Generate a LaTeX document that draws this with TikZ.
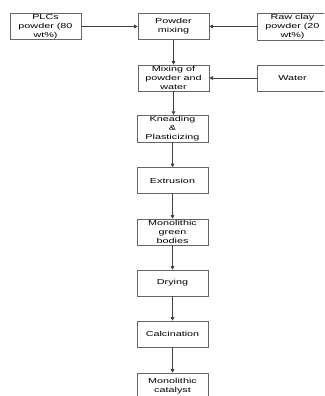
\documentclass[tikz,border=0pt]{standalone}
\usepackage{fontspec}
\newfontfamily\boxfont[FakeStretch=1.5]{Liberation Sans}
\usetikzlibrary{arrows.meta}
\begin{document}
\begin{tikzpicture}[x=1pt,y=-1pt,
    stepbox/.style={draw=black!60, line width=0.6pt, minimum width=71pt, minimum height=26pt,
      inner sep=1pt, align=center, font=\boxfont\fontsize{7.2}{9}\selectfont},
    flow/.style={draw=black!75, line width=0.6pt, -{Triangle[length=3.5pt,width=3.5pt]}}]
        \clip (0,0) rectangle (324,396);
        \node[stepbox] (plc) at (45.5,26.5) {PLCs\\powder (80\\wt\%)};
        \node[stepbox] (pm) at (173.5,26.5) {Powder\\mixing};
        \node[stepbox] (clay) at (292.5,26.5) {Raw clay\\powder (20\\wt\%)};
        \node[stepbox] (mix) at (173.5,78) {Mixing of\\powder and\\water};
        \node[stepbox] (water) at (292.5,78) {Water};
        \node[stepbox] (knead) at (172.5,128.5) {Kneading\\\&\\Plasticizing};
        \node[stepbox] (extr) at (172.5,180.5) {Extrusion};
        \node[stepbox] (green) at (172.5,232) {Monolithic\\green\\bodies};
        \node[stepbox] (dry) at (172.5,283) {Drying};
        \node[stepbox] (calc) at (172.5,334) {Calcination};
        \node[stepbox] (cat) at (172.5,386) {Monolithic\\catalyst};
        \draw[flow] (plc) -- (pm);
        \draw[flow] (clay) -- (pm);
        \draw[flow] (water) -- (mix);
        \foreach \a/\b in {pm/mix,mix/knead,knead/extr,extr/green,green/dry,dry/calc,calc/cat}{
        \draw[flow] (\a.south) -- (\a.south |- \b.north);
        }
\end{tikzpicture}
\end{document}
